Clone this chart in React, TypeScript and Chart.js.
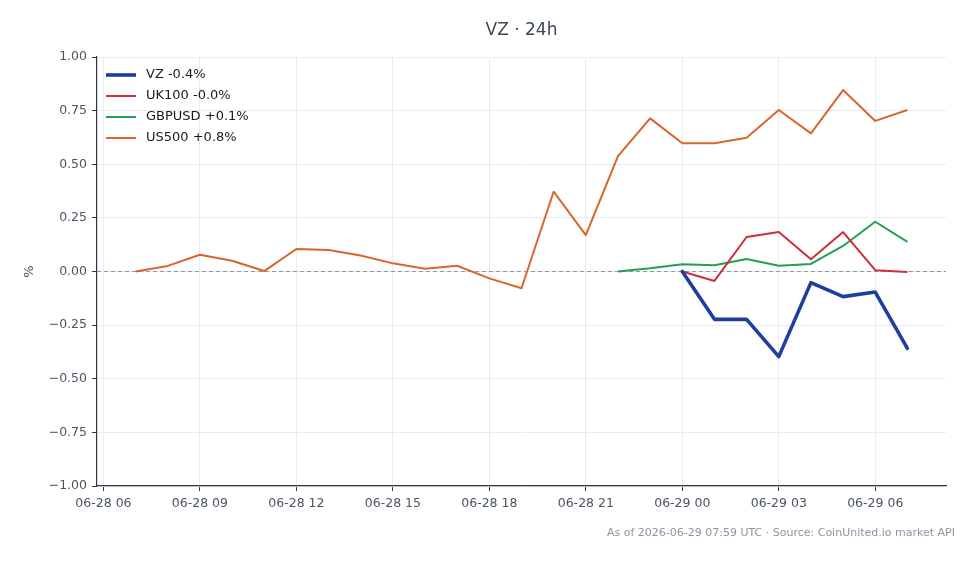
import React, { useEffect, useRef } from "react";
import { Chart, registerables } from "chart.js";

Chart.register(...registerables);

// Hours since 2026-06-28 00:00 UTC
const hourOffsets = [7, 8, 9, 10, 11, 12, 13, 14, 15, 16, 17, 18, 19, 20, 21, 22, 23, 24, 25, 26, 27, 28, 29, 30, 31];

const us500 = [0.0, 0.026, 0.078, 0.05, 0.002, 0.105, 0.1, 0.075, 0.038, 0.013, 0.027, -0.032, -0.078, 0.372, 0.17, 0.538, 0.714, 0.598, 0.598, 0.624, 0.753, 0.644, 0.846, 0.702, 0.753];
const gbpusd = [null, null, null, null, null, null, null, null, null, null, null, null, null, null, null, 0.0, 0.015, 0.034, 0.029, 0.058, 0.027, 0.035, 0.119, 0.232, 0.138];
const uk100 = [null, null, null, null, null, null, null, null, null, null, null, null, null, null, null, null, null, 0.0, -0.044, 0.161, 0.184, 0.057, 0.184, 0.006, -0.002];
const vz = [null, null, null, null, null, null, null, null, null, null, null, null, null, null, null, null, null, 0.0, -0.223, -0.223, -0.397, -0.052, -0.117, -0.096, -0.358];

const seriesNames = ["VZ -0.4%", "UK100 -0.0%", "GBPUSD +0.1%", "US500 +0.8%"];

const xTickValues = [6, 9, 12, 15, 18, 21, 24, 27, 30];
const xTickLabels = ["06-28 06", "06-28 09", "06-28 12", "06-28 15", "06-28 18", "06-28 21", "06-29 00", "06-29 03", "06-29 06"];
const yTickValues = [-1, -0.75, -0.5, -0.25, 0, 0.25, 0.5, 0.75, 1];

const X_MIN = 5.8;
const X_MAX = 32.2;

const titleText = "VZ · 24h";
const footerText = "As of 2026-06-29 07:59 UTC · Source: CoinUnited.io market API";

const FONT = "'DejaVu Sans', sans-serif";

function pts(values: (number | null)[]) {
  return hourOffsets.map((h, i) => ({ x: h, y: values[i] }));
}

const textPlugin = {
  id: "titleFooter",
  afterDraw(chart: any) {
    const ctx = chart.ctx;
    const area = chart.chartArea;
    ctx.save();
    ctx.textBaseline = "middle";
    ctx.font = `17px ${FONT}`;
    ctx.fillStyle = "#3c4858";
    ctx.textAlign = "center";
    ctx.fillText(titleText, (area.left + area.right) / 2, 31);
    ctx.font = `11px ${FONT}`;
    ctx.fillStyle = "#8a94a3";
    ctx.textAlign = "right";
    ctx.fillText(footerText, chart.width - 23, chart.height - 31);
    ctx.restore();
  },
};

const legendPlugin = {
  id: "insideLegend",
  afterDatasetsDraw(chart: any) {
    const ctx = chart.ctx;
    const area = chart.chartArea;
    const x0 = area.left + 9;
    let y = area.top + 18;
    ctx.save();
    ctx.font = `13px ${FONT}`;
    ctx.textAlign = "left";
    ctx.textBaseline = "middle";
    chart.data.datasets.forEach((ds: any) => {
      if (ds.label === "zero") return;
      ctx.strokeStyle = ds.borderColor;
      ctx.lineWidth = ds.borderWidth;
      ctx.lineCap = "butt";
      ctx.beginPath();
      ctx.moveTo(x0, y);
      ctx.lineTo(x0 + 30, y);
      ctx.stroke();
      ctx.fillStyle = "#1a1a1a";
      ctx.fillText(ds.label, x0 + 40, y);
      y += 21;
    });
    ctx.restore();
  },
};

export default function App() {
  const ref = useRef<HTMLCanvasElement | null>(null);

  useEffect(() => {
    if (!ref.current) return;
    const chart = new Chart(ref.current, {
      type: "line",
      data: {
        datasets: [
          {
            label: seriesNames[0],
            data: pts(vz),
            borderColor: "#1f3f9f",
            backgroundColor: "#1f3f9f",
            borderWidth: 3.6,
            pointRadius: 0,
            tension: 0,
            borderJoinStyle: "round",
            borderCapStyle: "round",
            spanGaps: false,
            order: 0,
          },
          {
            label: seriesNames[1],
            data: pts(uk100),
            borderColor: "#cc2f36",
            backgroundColor: "#cc2f36",
            borderWidth: 2,
            pointRadius: 0,
            tension: 0,
            borderJoinStyle: "round",
            order: 1,
          },
          {
            label: seriesNames[2],
            data: pts(gbpusd),
            borderColor: "#22a052",
            backgroundColor: "#22a052",
            borderWidth: 2,
            pointRadius: 0,
            tension: 0,
            borderJoinStyle: "round",
            order: 2,
          },
          {
            label: seriesNames[3],
            data: pts(us500),
            borderColor: "#d9652b",
            backgroundColor: "#d9652b",
            borderWidth: 2,
            pointRadius: 0,
            tension: 0,
            borderJoinStyle: "round",
            order: 3,
          },
          {
            label: "zero",
            data: [
              { x: X_MIN, y: 0 },
              { x: X_MAX, y: 0 },
            ],
            borderColor: "#8e9aab",
            borderWidth: 1,
            borderDash: [4, 3],
            pointRadius: 0,
            order: 10,
          },
        ],
      },
      options: {
        responsive: false,
        animation: false,
        layout: { padding: { left: 0, right: 32, top: 57, bottom: 48 } },
        plugins: {
          title: { display: false },
          legend: { display: false },
          tooltip: { enabled: false },
        },
        scales: {
          x: {
            type: "linear",
            min: X_MIN,
            max: X_MAX,
            afterBuildTicks: (scale: any) => {
              scale.ticks = xTickValues.map((v) => ({ value: v }));
            },
            afterFit: (scale: any) => {
              scale.height = 30;
            },
            ticks: {
              callback: (v: any) => {
                const i = xTickValues.indexOf(Number(v));
                return i >= 0 ? xTickLabels[i] : "";
              },
              color: "#4a5568",
              font: { family: FONT, size: 12.5 },
              padding: 5,
              maxRotation: 0,
              autoSkip: false,
            },
            grid: {
              color: "#e8ecf1",
              lineWidth: 1,
              tickColor: "#2d3748",
              tickLength: 5,
              drawTicks: true,
            },
            border: { display: true, color: "#2d3748", width: 1.2 },
          },
          y: {
            type: "linear",
            min: -1,
            max: 1,
            afterBuildTicks: (scale: any) => {
              scale.ticks = yTickValues.map((v) => ({ value: v }));
            },
            afterFit: (scale: any) => {
              scale.width = 97;
            },
            ticks: {
              callback: (v: any) => {
                const n = Number(v);
                const s = Math.abs(n).toFixed(2);
                return n < 0 ? "\u2212" + s : s;
              },
              color: "#4a5568",
              font: { family: FONT, size: 12.5 },
              padding: 5,
            },
            grid: {
              color: "#e8ecf1",
              lineWidth: 1,
              tickColor: "#2d3748",
              tickLength: 5,
              drawTicks: true,
            },
            border: { display: true, color: "#2d3748", width: 1.2 },
            title: {
              display: true,
              text: "%",
              color: "#4a5568",
              font: { family: FONT, size: 13 },
              padding: { top: 22, bottom: 0 },
            },
          },
        },
      },
      plugins: [textPlugin, legendPlugin],
    } as any);
    return () => chart.destroy();
  }, []);

  return (
    <div style={{ position: "absolute", left: 0, top: 0, width: 978, height: 564, background: "#ffffff" }}>
      <canvas ref={ref} width={978} height={564} style={{ width: 978, height: 564 }} />
    </div>
  );
}
